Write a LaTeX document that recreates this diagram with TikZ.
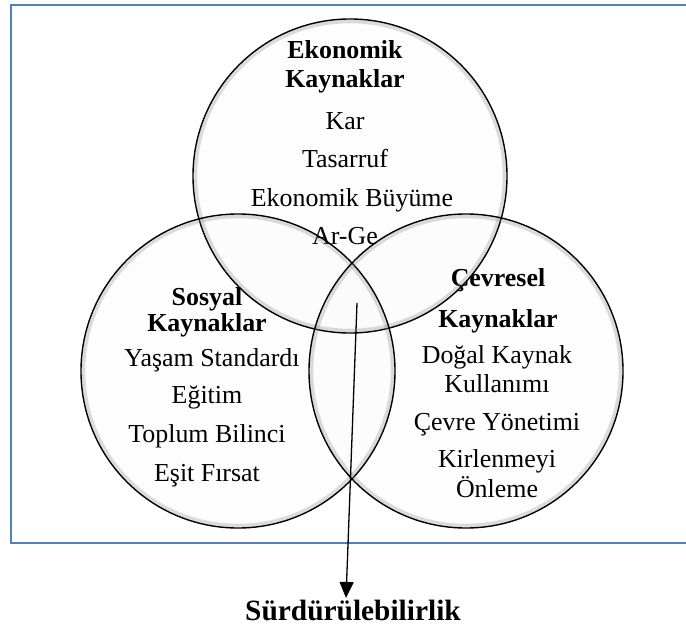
\documentclass[tikz,border=0pt]{standalone}
\usepackage{fontspec}
\setmainfont{Liberation Serif}
\usetikzlibrary{arrows.meta}
\definecolor{frameblue}{RGB}{79,129,189}
\tikzset{
  venn fill/.style={fill=black!2, fill opacity=0.45},
  venn glow/.style={draw=black!45, line width=3.5bp, draw opacity=0.3},
  venn line/.style={draw=black, line width=1.4bp},
  txt/.style={inner sep=0pt, font=\fontsize{26}{30}\selectfont, anchor=base},
  hd/.style={inner sep=0pt, font=\fontsize{26}{30}\selectfont\bfseries, anchor=base},
}
\begin{document}
\begin{tikzpicture}[x=1bp, y=-1bp]
\useasboundingbox (0,0) rectangle (686,627);
% frame (right side runs off the picture)
\draw[frameblue, line width=1.6bp] (686,5) -- (11,5) -- (11,543) -- (686,543);
% circle centres
\coordinate (ct) at (350,176);
\coordinate (cl) at (238,371);
\coordinate (cr) at (466,371);
\def\R{157}
% fills
\foreach \c in {ct,cl,cr} \path[venn fill] (\c) circle[radius=\R];
% texts
\node[hd] (e1) at (345,59) {Ekonomik};
\node[hd] (e2) at (345,88) {Kaynaklar};
\node[txt] (e3) at (345,130) {Kar};
\node[txt] (e4) at (345,168) {Tasarruf};
\node[txt] (e5) at (352,206) {Ekonomik Büyüme};
\node[txt] (e6) at (345,244) {Ar-Ge};
\node[hd] (s1) at (207,305) {Sosyal};
\node[hd] (s2) at (207,331) {Kaynaklar};
\node[txt] (s3) at (212,366) {Yaşam Standardı};
\node[txt] (s4) at (207,403) {Eğitim};
\node[txt] (s5) at (207,442) {Toplum Bilinci};
\node[txt] (s6) at (207,481) {Eşit Fırsat};
\node[hd] (c1) at (498,286) {Çevresel};
\node[hd] (c2) at (498,327) {Kaynaklar};
\node[txt] (c3) at (497,363) {Doğal Kaynak};
\node[txt] (c4) at (497,392) {Kullanımı};
\node[txt] (c5) at (497,430) {Çevre Yönetimi};
\node[txt] (c6) at (497,467) {Kirlenmeyi};
\node[txt] (c7) at (497,497) {Önleme};
% outlines
\foreach \c in {ct,cl,cr} {
  \draw[venn glow] (\c) circle[radius=\R-2.5];
  \draw[venn line] (\c) circle[radius=\R];
}
% result
\node[inner sep=0pt, anchor=base, font=\fontsize{29.5}{33}\selectfont\bfseries] (sur) at (353,620) {Sürdürülebilirlik};
\coordinate (as) at (357,303);
\coordinate (ae) at (346,598);
\draw[line width=1.3bp, -{Triangle[width=14bp,length=16bp]}] (as) -- (ae);
\end{tikzpicture}
\end{document}
